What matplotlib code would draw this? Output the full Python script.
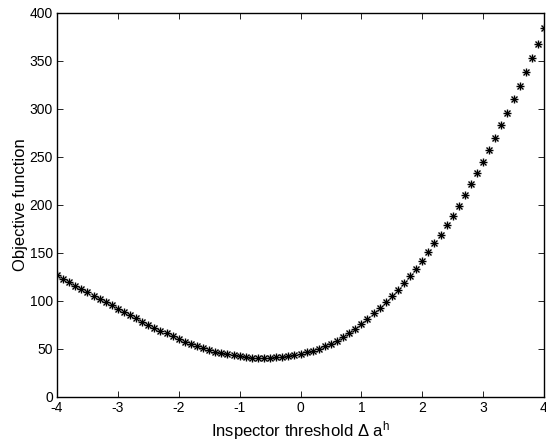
import matplotlib
matplotlib.use("Agg")
import matplotlib.pyplot as plt
import numpy as np

# threshold values (step 0.1) and the objective
threshold = [round(-4.0 + 0.1 * i, 1) for i in range(81)]
objective = [
    127.0, 123.2, 119.5, 115.9, 112.4, 109.0, 105.6, 102.2, 98.8, 95.4,
    92.0, 88.6, 85.3, 82.0, 78.6, 75.3, 72.2, 69.2, 66.3, 63.5,
    60.8, 57.5, 55.0, 52.7, 50.6, 48.8, 47.2, 45.8, 44.5, 43.3,
    42.3, 41.5, 41.0, 40.7, 40.6, 40.8, 41.3, 42.0, 42.9, 43.9,
    45.0, 46.6, 48.4, 50.5, 52.8, 55.4, 58.6, 62.2, 66.5, 71.2,
    76.2, 81.5, 87.0, 92.8, 98.8, 105.0, 111.6, 118.6, 126.0, 133.8,
    142.0, 150.8, 160.0, 169.2, 178.8, 188.5, 199.0, 210.0, 221.5, 233.0,
    245.0, 257.0, 270.0, 283.0, 296.0, 310.0, 324.0, 339.0, 353.0, 368.0,
    384.0,
]
xticks = [-4, -3, -2, -1, 0, 1, 2, 3, 4]
yticks = [0, 50, 100, 150, 200, 250, 300, 350, 400]

plt.rcParams["font.family"] = ["Liberation Sans", "DejaVu Sans"]
plt.rcParams["mathtext.fontset"] = "custom"
plt.rcParams["mathtext.rm"] = "Liberation Sans"
plt.rcParams["mathtext.it"] = "Liberation Sans"
plt.rcParams["axes.unicode_minus"] = False

fig = plt.figure(figsize=(5.46, 4.42), dpi=100)
ax = fig.add_axes([57 / 546, 45 / 442, 487 / 546, 384 / 442])

# matlab style asterisk: a plus and a cross on top of each other
ax.plot(threshold, objective, linestyle="none", marker="+", color="black",
        markersize=5.5, markeredgewidth=1.0)
ax.plot(threshold, objective, linestyle="none", marker="x", color="black",
        markersize=4.0, markeredgewidth=1.0)

ax.set_xlim(-4, 4)
ax.set_ylim(0, 400)
ax.set_xticks(xticks)
ax.set_yticks(yticks)
ax.tick_params(direction="in", length=4, width=0.6, top=True, right=True,
               labelsize=10, pad=3)
for s in ax.spines.values():
    s.set_linewidth(1.0)

ax.set_xlabel(r"Inspector threshold $\Delta$ a$^{\mathrm{h}}$", fontsize=12, labelpad=3)
ax.set_ylabel("Objective function", fontsize=12, labelpad=1)

fig.savefig("out.png", dpi=100)
